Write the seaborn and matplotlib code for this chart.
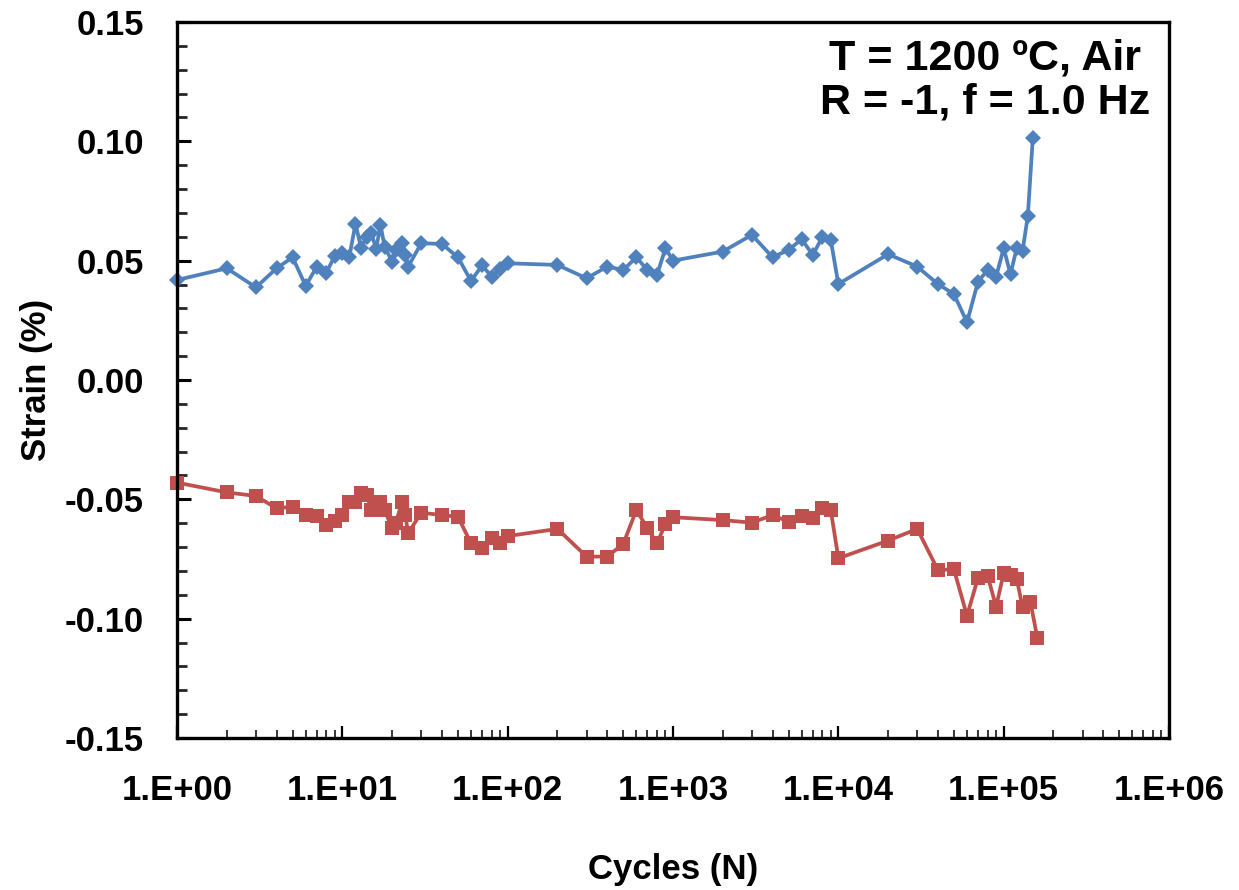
import numpy as np
import pandas as pd
import matplotlib
matplotlib.use("Agg")
import matplotlib.pyplot as plt
import seaborn as sns
from matplotlib.ticker import FixedLocator, FixedFormatter, LogLocator, MultipleLocator, NullFormatter

# ---------------- data ----------------
cycles_max = [1, 2, 3, 4, 5, 6, 7, 8, 9, 10, 11, 12, 13, 14, 15, 16, 17, 18,
              20, 21, 23, 24, 25,
              30, 40, 50, 60, 70, 80, 90, 100,
              200, 300, 400, 500, 600, 700, 800, 900, 1000,
              2000, 3000, 4000, 5000, 6000, 7000, 8000, 9000, 10000,
              20000, 30000, 40000, 50000, 60000, 70000, 80000, 90000, 100000,
              110000, 120000, 130000, 140000, 150000]
strain_max = [0.0419, 0.0468, 0.0388, 0.0468, 0.0514, 0.0394, 0.0475, 0.045, 0.052,
              0.0533, 0.0514, 0.0654, 0.0552, 0.060, 0.0615, 0.0548, 0.065, 0.0559,
              0.0496, 0.0545, 0.0573, 0.0524, 0.0475,
              0.0573, 0.057, 0.0514, 0.0415, 0.048, 0.0433, 0.0464, 0.0489,
              0.0482, 0.0426, 0.0475, 0.0461, 0.0514, 0.0461, 0.044, 0.0552, 0.050,
              0.0538, 0.0608, 0.0514, 0.0545, 0.059, 0.0524, 0.0598, 0.0587, 0.0402,
              0.0527, 0.0475, 0.0402, 0.036, 0.0242, 0.0412, 0.0461, 0.0433, 0.0552,
              0.0443, 0.0554, 0.054, 0.0687, 0.1013]

cycles_min = [1, 2, 3, 4, 5, 6, 7, 8, 9, 10, 11, 12, 13, 14, 15, 16, 17, 18,
              20, 21, 23, 24, 25,
              30, 40, 50, 60, 70, 80, 90, 100,
              200, 300, 400, 500, 600, 700, 800, 900, 1000,
              2000, 3000, 4000, 5000, 6000, 7000, 8000, 9000, 10000,
              20000, 30000, 40000, 50000, 60000, 70000, 80000, 90000, 100000,
              110000, 120000, 130000, 145000, 160000]
strain_min = [-0.043, -0.0471, -0.0486, -0.0538, -0.0531, -0.0566, -0.057, -0.0608, -0.059,
              -0.0566, -0.051, -0.051, -0.0475, -0.048, -0.0545, -0.052, -0.051, -0.0545,
              -0.0621, -0.060, -0.051, -0.0566, -0.0642,
              -0.0556, -0.0566, -0.0573, -0.0684, -0.0705, -0.0663, -0.0684, -0.0654,
              -0.0624, -0.074, -0.074, -0.0687, -0.0545, -0.0621, -0.0684, -0.0603, -0.0575,
              -0.0587, -0.0598, -0.0566, -0.0594, -0.057, -0.058, -0.0538, -0.0545, -0.0747,
              -0.0673, -0.0624, -0.0796, -0.0793, -0.0988, -0.0828, -0.0821, -0.095, -0.081,
              -0.0817, -0.0835, -0.095, -0.0929, -0.1082]

x_ticks = [1, 10, 100, 1000, 10000, 100000, 1000000]
x_tick_labels = ["1.E+00", "1.E+01", "1.E+02", "1.E+03", "1.E+04", "1.E+05", "1.E+06"]
y_ticks = [-0.15, -0.10, -0.05, 0.00, 0.05, 0.10, 0.15]
y_tick_labels = ["-0.15", "-0.10", "-0.05", "0.00", "0.05", "0.10", "0.15"]

annotation = "T = 1200 ºC, Air\nR = -1, f = 1.0 Hz"
x_label = "Cycles (N)"
y_label = "Strain (%)"

blue = "#4F81BD"
red = "#C0504D"

# ---------------- style ----------------
sns.set_style("white")
plt.rcParams["font.family"] = ["Liberation Sans", "DejaVu Sans"]
plt.rcParams["text.color"] = "black"
plt.rcParams["axes.labelcolor"] = "black"

fig = plt.figure(figsize=(12.39, 8.90), dpi=100)
ax = fig.add_axes([0.1429, 0.1708, 0.8006, 0.8045])

df_max = pd.DataFrame({"cycles": cycles_max, "strain": strain_max})
df_min = pd.DataFrame({"cycles": cycles_min, "strain": strain_min})

sns.lineplot(data=df_max, x="cycles", y="strain", ax=ax, color=blue,
             marker="D", markersize=8.5, markeredgewidth=0, linewidth=2.7,
             estimator=None, sort=False, clip_on=False)
sns.lineplot(data=df_min, x="cycles", y="strain", ax=ax, color=red,
             marker="s", markersize=10, markeredgewidth=0, linewidth=2.7,
             estimator=None, sort=False, clip_on=False)

ax.set_xscale("log")
ax.set_xlim(1, 1e6)
ax.set_ylim(-0.15, 0.15)

ax.xaxis.set_major_locator(FixedLocator(x_ticks))
ax.xaxis.set_major_formatter(FixedFormatter(x_tick_labels))
ax.xaxis.set_minor_locator(LogLocator(base=10, subs=np.arange(2, 10), numticks=20))
ax.xaxis.set_minor_formatter(NullFormatter())

ax.yaxis.set_major_locator(FixedLocator(y_ticks))
ax.yaxis.set_major_formatter(FixedFormatter(y_tick_labels))
ax.yaxis.set_minor_locator(MultipleLocator(0.01))

for s in ax.spines.values():
    s.set_visible(True)
    s.set_color("black")
    s.set_linewidth(2.4)

ax.tick_params(axis="y", which="major", direction="in", length=10, width=2.2,
               labelsize=25, pad=24, left=True, colors="black")
ax.tick_params(axis="y", which="minor", direction="in", length=7, width=2.0, left=True)
ax.tick_params(axis="x", which="major", direction="in", length=9, width=1.6,
               labelsize=25, pad=26, bottom=True, colors="black")
ax.tick_params(axis="x", which="minor", direction="in", length=6, width=1.3, bottom=True)
for lab in ax.get_xticklabels() + ax.get_yticklabels():
    lab.set_fontweight("bold")

ax.set_xlabel(x_label, fontsize=25, fontweight="bold", labelpad=33, color="black")
ax.set_ylabel(y_label, fontsize=25, fontweight="bold", labelpad=8, color="black")

ax.text(0.981, 0.977, annotation, transform=ax.transAxes, ha="right", va="top",
        multialignment="center", fontsize=31, fontweight="bold", linespacing=1.12,
        color="black")

ax.grid(False)
fig.savefig("out.png", dpi=100)
